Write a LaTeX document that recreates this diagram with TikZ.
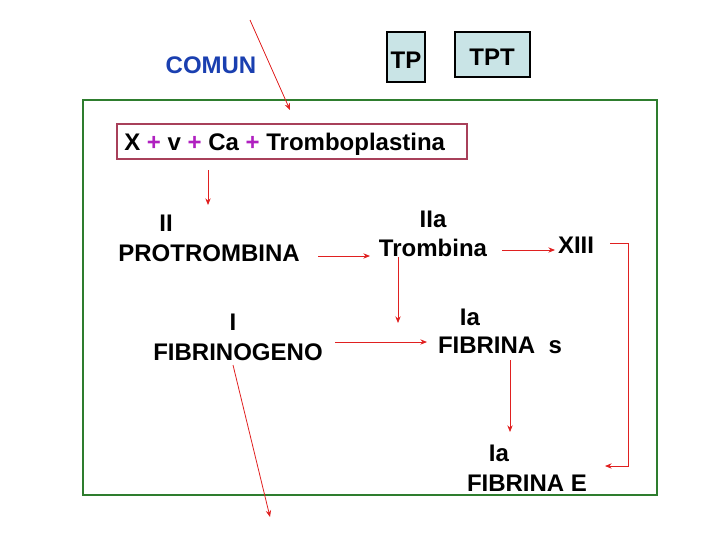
\documentclass[tikz,border=0pt]{standalone}
\usepackage{fontspec}
\setmainfont{Liberation Sans}
\usetikzlibrary{arrows.meta}
\definecolor{ared}{HTML}{E02020}
\definecolor{gframe}{HTML}{2E7D2E}
\definecolor{rbox}{HTML}{A8405A}
\definecolor{cbox}{HTML}{C9E4E6}
\definecolor{comun}{HTML}{1A3FB0}
\definecolor{plus}{HTML}{B020C0}
\tikzset{
 lbl/.style={font=\fontsize{18}{20}\selectfont\bfseries, inner sep=0pt},
 arr/.style={ared, line width=0.6pt, -{Stealth[length=5pt,width=4pt]}},
 tbox/.style={draw=black, fill=cbox, line width=0.8pt, inner sep=0pt}
}
\begin{document}
\begin{tikzpicture}[x=0.75pt,y=-0.75pt]
\useasboundingbox (0,0) rectangle (728,546);
\draw[gframe, line width=2.2pt] (83,100) rectangle (657,495);
\draw[tbox] (387,32) rectangle (425,82);
\node[lbl] (tptxt) at (406,60) {TP};
\draw[tbox] (455,32) rectangle (530,77);
\node[lbl] (tpttxt) at (492,57) {TPT};
\node[lbl, text=comun] (comun) at (211,65) {COMUN};
\draw[rbox, line width=1.8pt] (117,124) rectangle (467,159);
\node[lbl, anchor=west] (formtxt) at (124,144) {X {\color{plus}+} v {\color{plus}+} Ca {\color{plus}+} Tromboplastina};
\coordinate (c0) at (250,20); \coordinate (c1) at (290,110);
\draw[arr] (c0) -- (c1);
\node[lbl] (ii) at (166,223) {II};
\node[lbl] (pro) at (209,253) {PROTROMBINA};
\node[lbl] (iia) at (433,219) {IIa};
\node[lbl] (tro) at (433,248) {Trombina};
\node[lbl] (xiii) at (576,245) {XIII};
\node[lbl] (i) at (233,322) {I};
\node[lbl] (fgn) at (238,352) {FIBRINOGENO};
\node[lbl] (ia1) at (470,317) {Ia};
\node[lbl] (fs) at (500,345) {FIBRINA\ \ s};
\node[lbl] (ia2) at (499,453) {Ia};
\node[lbl] (fe) at (527,483) {FIBRINA E};
\coordinate (a1) at (208,170); \coordinate (a2) at (208,205);
\draw[arr] (a1) -- (a2);
\coordinate (b1) at (318,256); \coordinate (b2) at (370,256);
\draw[arr] (b1) -- (b2);
\coordinate (d1) at (502,250); \coordinate (d2) at (555,250);
\draw[arr] (d1) -- (d2);
\coordinate (e1) at (398,257); \coordinate (e2) at (398,323);
\draw[arr] (e1) -- (e2);
\coordinate (f1) at (335,342); \coordinate (f2) at (427,342);
\draw[arr] (f1) -- (f2);
\coordinate (g1) at (510,360); \coordinate (g2) at (510,432);
\draw[arr] (g1) -- (g2);
\coordinate (h1) at (610,243); \coordinate (h2) at (605,466);
\draw[arr] (h1) -- (628,243) -- (628,466) -- (h2);
\coordinate (k1) at (233,365); \coordinate (k2) at (270,517);
\draw[arr] (k1) -- (k2);
\end{tikzpicture}
\end{document}
